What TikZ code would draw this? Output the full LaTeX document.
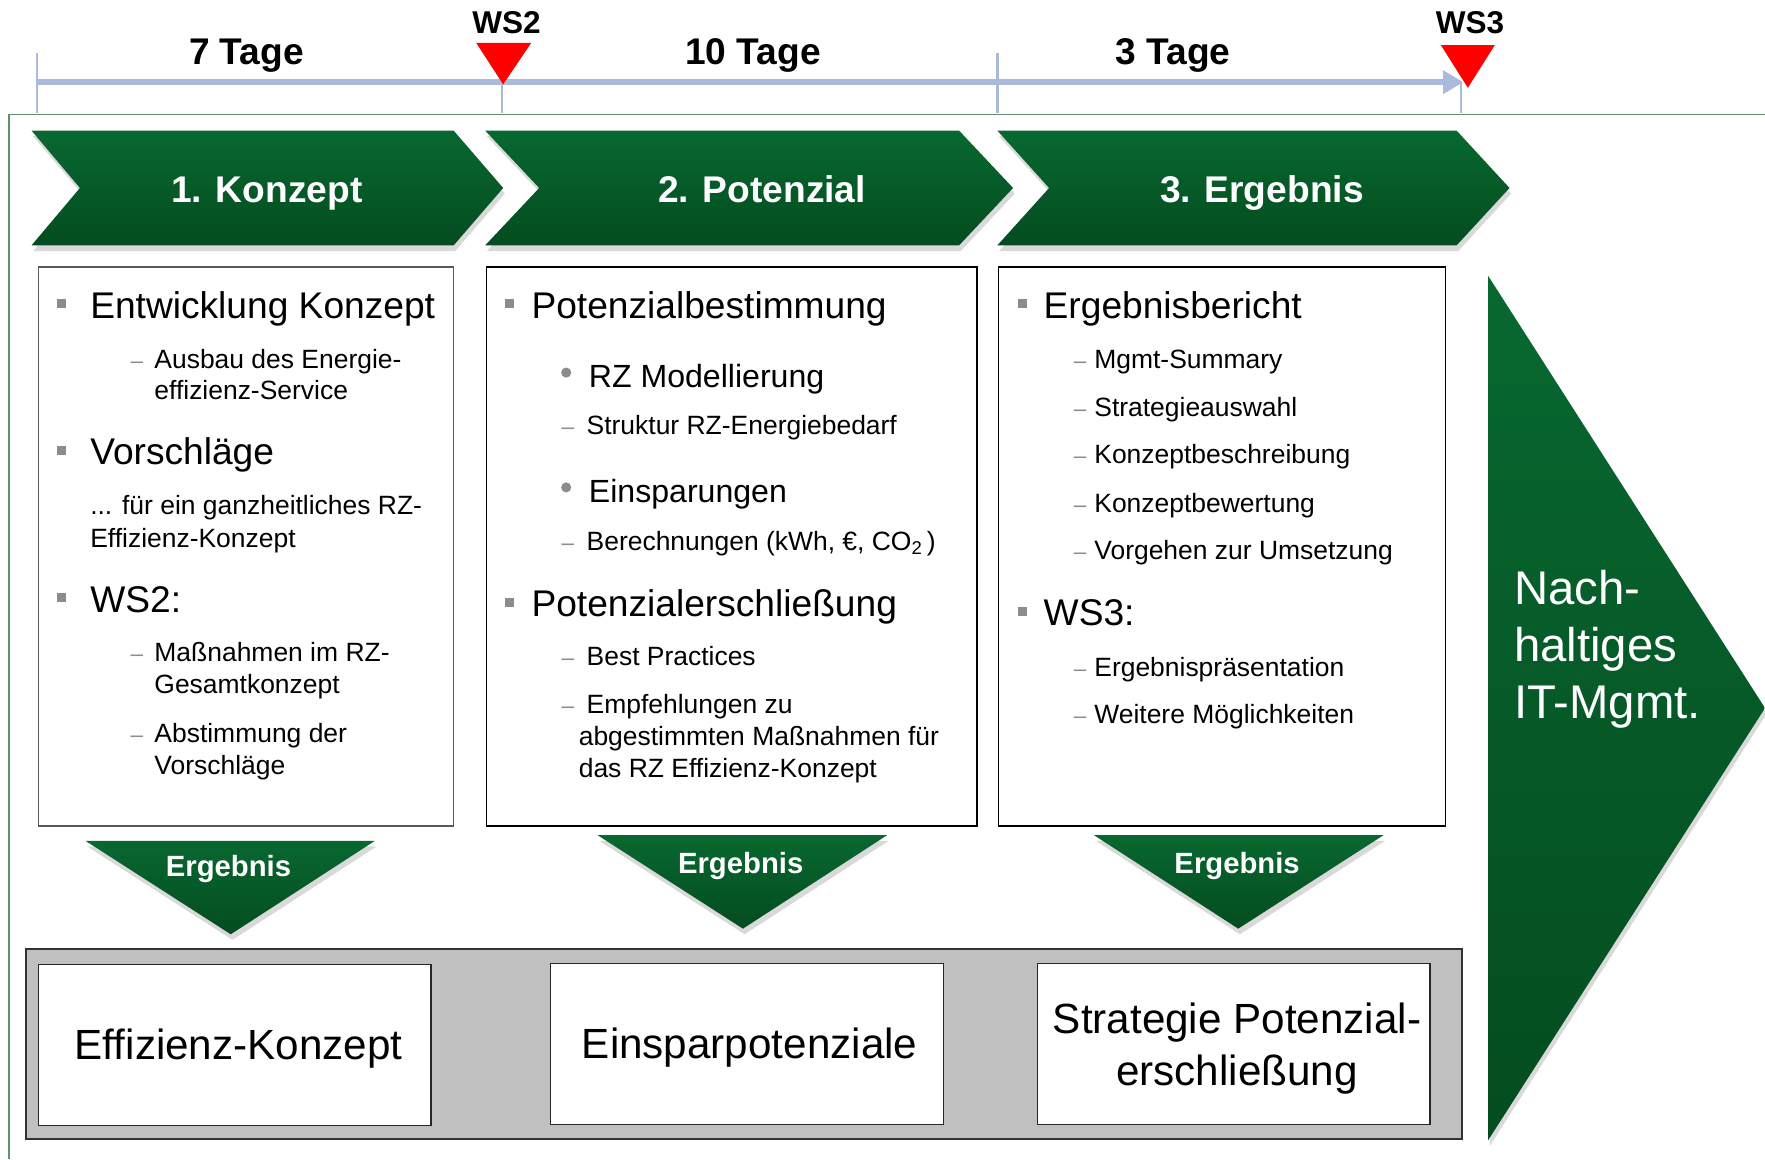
\documentclass[tikz,border=0pt]{standalone}
\usepackage{fontspec}
\setmainfont{Liberation Sans}
\usetikzlibrary{arrows.meta,shadows}
\definecolor{gtop}{RGB}{8,104,48}
\definecolor{gbot}{RGB}{4,76,31}
\definecolor{tlblue}{RGB}{170,186,218}
\definecolor{frameg}{RGB}{95,145,110}
\definecolor{bulgray}{RGB}{140,140,140}
\definecolor{panelgray}{RGB}{192,192,192}
\definecolor{redmk}{RGB}{255,0,0}
\begin{document}
\begin{tikzpicture}[x=1pt,y=-1pt,
  lbl/.style={font=\bfseries\fontsize{33}{36}\selectfont, anchor=base, inner sep=0},
  wslbl/.style={font=\bfseries\fontsize{28}{30}\selectfont, anchor=base, inner sep=0},
  tickln/.style={tlblue, line width=2.2pt},
  redmark/.style={fill=redmk},
  chev/.style={top color=gtop, bottom color=gbot, draw=none, drop shadow={opacity=0.3,shadow xshift=1.5pt,shadow yshift=-5pt}},
  chevtxt/.style={font=\bfseries\fontsize{33}{36}\selectfont, text=white, anchor=base, inner sep=0},
  ergtxt/.style={font=\bfseries\fontsize{26}{30}\selectfont, text=white, anchor=base, inner sep=0},
  cbox/.style={draw=black, line width=1.3pt, fill=white, inner sep=0},
  hA/.style={font=\fontsize{33}{36}\selectfont, anchor=base west, inner sep=0},
  hB/.style={font=\fontsize{28.5}{30}\selectfont, anchor=base west, inner sep=0},
  tx/.style={font=\fontsize{23.5}{28}\selectfont, anchor=base west, inner sep=0},
  sqb/.style={fill=bulgray, minimum size=8pt, inner sep=0, draw=none},
  dotb/.style={circle, fill=bulgray, minimum size=9pt, inner sep=0, draw=none},
  dashmark/.style={font=\fontsize{20}{22}\selectfont, text=bulgray, anchor=base, inner sep=0},
  restxt/.style={font=\fontsize{37.5}{46}\selectfont, anchor=base, inner sep=0},
  wbox/.style={draw=black!85, line width=1.2pt, fill=white, minimum width=349pt, minimum height=143pt, inner sep=0},
  bigtxt/.style={font=\fontsize{42}{50}\selectfont, text=white, anchor=base west, inner sep=0}
]
\useasboundingbox (0,0) rectangle (1568,1030);

% frame
\coordinate (fr0) at (8,1030);
\coordinate (fr1) at (8,102);
\coordinate (fr2) at (1568,102);
\draw[frameg, line width=1.2pt] (fr0) -- (fr1) -- (fr2);

% timeline
\coordinate (tl0) at (33,73);
\coordinate (tl1) at (1300,73);
\draw[tickln] (33,47) -- (33,100);
\draw[tickln] (446,73) -- (446,100);
\draw[tickln] (886,47) -- (886,100);
\draw[tickln] (1298,73) -- (1298,100);
\draw[tlblue, line width=5pt, -{Triangle[length=18pt,width=20pt]}] (tl0) -- (tl1);
\fill[redmark] (423,38) -- (472,38) -- (447,75) -- cycle;
\fill[redmark] (1280,40) -- (1328,40) -- (1304,78) -- cycle;
\node[lbl] (d7) at (219,57) {7 Tage};
\node[lbl] (d10) at (669,57) {10 Tage};
\node[lbl] (d3) at (1042,57) {3 Tage};
\node[wslbl] (ws2) at (450,30) {WS2};
\node[wslbl] (ws3) at (1306,30) {WS3};

% chevrons
\path[chev] (28,116) -- (403,116) -- (447,167) -- (403,218) -- (28,218) -- (71,167) -- cycle;
\path[chev] (431,116) -- (852,116) -- (900,167) -- (852,218) -- (431,218) -- (479,167) -- cycle;
\path[chev] (886,116) -- (1294,116) -- (1341,167) -- (1294,218) -- (886,218) -- (932,167) -- cycle;
\node[chevtxt] (c1) at (237,180) {1. Konzept};
\node[chevtxt] (c2) at (677,180) {2. Potenzial};
\node[chevtxt] (c3) at (1121,180) {3. Ergebnis};

% content boxes
\node[cbox, draw=black!65, minimum width=369pt, minimum height=497pt] (b1) at (218.5,485.5) {};
\node[cbox, minimum width=436pt, minimum height=497pt] (b2) at (650,485.5) {};
\node[cbox, minimum width=397pt, minimum height=497pt] (b3) at (1085.5,485.5) {};

% box 1
\node[sqb] (b1s1) at (55,270) {};
\node[hA] (b1t1) at (80,283) {Entwicklung Konzept};
\node[dashmark] (b1d1) at (121.5,327) {–};
\node[tx] (b1t2) at (137,327) {Ausbau des Energie-};
\node[tx] (b1t3) at (137,355) {effizienz-Service};
\node[sqb] (b1s2) at (55,400) {};
\node[hA] (b1t4) at (80,413) {Vorschläge};
\node[tx] (b1t5) at (80,457) {... für ein ganzheitliches RZ-};
\node[tx] (b1t6) at (80,486) {Effizienz-Konzept};
\node[sqb] (b1s3) at (55,531) {};
\node[hA] (b1t7) at (80,544) {WS2:};
\node[dashmark] (b1d2) at (121.5,588) {–};
\node[tx] (b1t8) at (137,588) {Maßnahmen im RZ-};
\node[tx] (b1t9) at (137,616) {Gesamtkonzept};
\node[dashmark] (b1d3) at (121.5,660) {–};
\node[tx] (b1t10) at (137,660) {Abstimmung der};
\node[tx] (b1t11) at (137,688) {Vorschläge};

% box 2
\node[sqb] (b2s1) at (453,270) {};
\node[hA] (b2t1) at (472,283) {Potenzialbestimmung};
\node[dotb] (b2o1) at (503,331) {};
\node[hB] (b2t2) at (523,344) {RZ Modellierung};
\node[dashmark] (b2d1) at (504.5,386) {–};
\node[tx] (b2t3) at (521,386) {Struktur RZ-Energiebedarf};
\node[dotb] (b2o2) at (503,433) {};
\node[hB] (b2t4) at (523,446) {Einsparungen};
\node[dashmark] (b2d2) at (504.5,489) {–};
\node[tx] (b2t5) at (521,489) {Berechnungen (kWh, €, CO\textsubscript{2}\,)};
\node[sqb] (b2s2) at (453,535) {};
\node[hA] (b2t6) at (472,548) {Potenzialerschließung};
\node[dashmark] (b2d3) at (504.5,591) {–};
\node[tx] (b2t7) at (521,591) {Best Practices};
\node[dashmark] (b2d4) at (504.5,634) {–};
\node[tx] (b2t8) at (521,634) {Empfehlungen zu};
\node[tx] (b2t9) at (514,662) {abgestimmten Maßnahmen für};
\node[tx] (b2t10) at (514,691) {das RZ Effizienz-Konzept};

% box 3
\node[sqb] (b3s1) at (908,270) {};
\node[hA] (b3t1) at (927,283) {Ergebnisbericht};
\node[dashmark] (b3d1) at (959.5,327) {–};
\node[tx] (b3t2) at (972,327) {Mgmt-Summary};
\node[dashmark] (b3d2) at (959.5,370) {–};
\node[tx] (b3t3) at (972,370) {Strategieauswahl};
\node[dashmark] (b3d3) at (959.5,412) {–};
\node[tx] (b3t4) at (972,412) {Konzeptbeschreibung};
\node[dashmark] (b3d4) at (959.5,455) {–};
\node[tx] (b3t5) at (972,455) {Konzeptbewertung};
\node[dashmark] (b3d5) at (959.5,497) {–};
\node[tx] (b3t6) at (972,497) {Vorgehen zur Umsetzung};
\node[sqb] (b3s2) at (908,543) {};
\node[hA] (b3t7) at (927,556) {WS3:};
\node[dashmark] (b3d6) at (959.5,601) {–};
\node[tx] (b3t8) at (972,601) {Ergebnispräsentation};
\node[dashmark] (b3d7) at (959.5,643) {–};
\node[tx] (b3t9) at (972,643) {Weitere Möglichkeiten};

% Ergebnis triangles
\path[chev] (76,747) -- (333,747) -- (205,830) -- cycle;
\path[chev] (531,742) -- (788,742) -- (660,825) -- cycle;
\path[chev] (972,742) -- (1229,742) -- (1100,825) -- cycle;
\node[ergtxt] (e1) at (203,779) {Ergebnis};
\node[ergtxt] (e2) at (658,776) {Ergebnis};
\node[ergtxt] (e3) at (1099,776) {Ergebnis};

% bottom panel
\node[draw=black!80, line width=1.8pt, fill=panelgray, minimum width=1276pt, minimum height=169pt, inner sep=0] (panel) at (661,927.5) {};
\node[wbox] (r1) at (208.5,928.5) {};
\node[wbox] (r2) at (663.5,927.5) {};
\node[wbox] (r3) at (1096,927.5) {};
\node[restxt] (r1t) at (212,941) {Effizienz-Konzept};
\node[restxt] (r2t) at (666,940) {Einsparpotenziale};
\node[restxt] (r3t1) at (1099,918) {Strategie Potenzial-};
\node[restxt] (r3t2) at (1099,964) {erschließung};

% big triangle
\path[chev] (1322,245) -- (1568,629) -- (1322,1013) -- cycle;
\node[bigtxt] (n1) at (1345,537) {Nach-};
\node[bigtxt] (n2) at (1345,588) {haltiges};
\node[bigtxt] (n3) at (1345,638) {IT-Mgmt.};
\end{tikzpicture}
\end{document}
